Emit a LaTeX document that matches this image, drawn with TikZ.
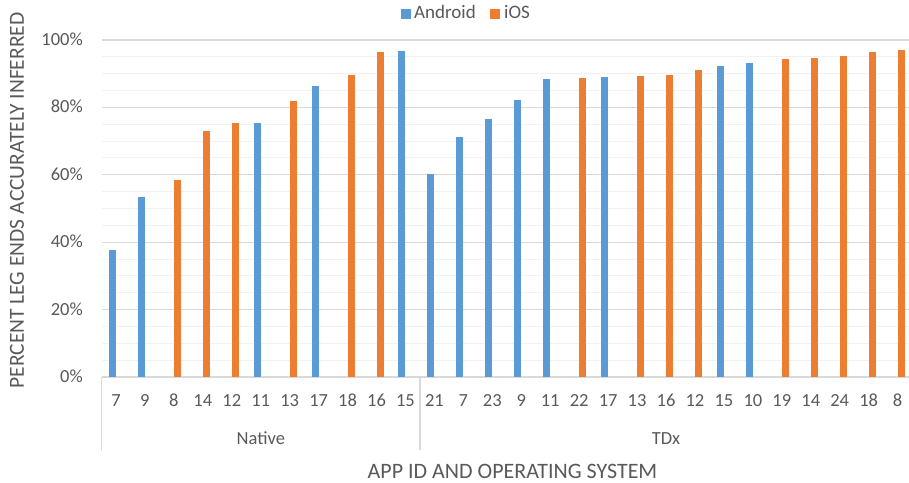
\documentclass[tikz,border=0pt]{standalone}
\usepackage{fontspec}
\setmainfont{Carlito}
\definecolor{andr}{HTML}{5B9BD5}
\definecolor{ios}{HTML}{ED7D31}
\definecolor{txt}{HTML}{595959}
\definecolor{majorc}{HTML}{D9D9D9}
\definecolor{minorc}{HTML}{F2F2F2}
\begin{document}
\begin{tikzpicture}[x=1pt,y=1pt,
  majorgrid/.style={draw=majorc,line width=1.2pt},
  minorgrid/.style={draw=minorc,line width=1pt},
  ytick/.style={text=txt,anchor=base east,inner sep=0pt,font=\fontsize{18.5}{20}\selectfont},
  cattick/.style={text=txt,anchor=base,inner sep=0pt,font=\fontsize{18.5}{20}\selectfont},
  grouplab/.style={text=txt,anchor=base,inner sep=0pt,font=\fontsize{18.5}{20}\selectfont},
  axtitle/.style={text=txt,anchor=base,inner sep=0pt,font=\fontsize{22}{24}\selectfont},
  ytitle/.style={text=txt,anchor=base,inner sep=0pt,font=\fontsize{21.5}{24}\selectfont},
  leglab/.style={text=txt,anchor=base west,inner sep=0pt,font=\fontsize{19}{20}\selectfont},
  legkey/.style={minimum width=10pt,minimum height=10pt,inner sep=0pt,anchor=south west}
]
\useasboundingbox (0,0) rectangle (909,482);
% minor gridlines
\foreach \p in {5,10,15,25,30,35,45,50,55,65,70,75,85,90,95}
  \draw[minorgrid] (101.5,{105+\p*3.37}) -- (909,{105+\p*3.37});
% major gridlines and y tick labels
\foreach \p in {0,20,40,60,80,100}{
  \draw[majorgrid] (101.5,{105+\p*3.37}) -- (909,{105+\p*3.37});
  \node[ytick] (ytick-\p) at (83,{105+\p*3.37-5.6}) {\p\%};
}
% category axis lines
\draw[majorgrid] (101.5,105) -- (101.5,32);
\draw[majorgrid] (419.95,105) -- (419.95,32);
% bars and category labels
\foreach \lab/\col/\off/\v [count=\k from 0] in {
  7/andr/-7/37.7, 9/andr/-7/53.4, 8/ios/0/58.5, 14/ios/0/73.1, 12/ios/0/75.3,
  11/andr/-7/75.3, 13/ios/0/81.9, 17/andr/-7/86.3, 18/ios/0/89.7, 16/ios/0/96.4,
  15/andr/-7/96.8,
  21/andr/-7/60.2, 7/andr/-7/71.2, 23/andr/-7/76.6, 9/andr/-7/82.1, 11/andr/-7/88.4,
  22/ios/0/88.6, 17/andr/-7/89.0, 13/ios/0/89.3, 16/ios/0/89.6, 12/ios/0/91.0,
  15/andr/-7/92.2, 10/andr/-7/93.1, 19/ios/0/94.3, 14/ios/0/94.7, 24/ios/0/95.3,
  18/ios/0/96.3, 8/ios/0/97.0}{
  \pgfmathsetmacro\c{101.5+28.95*(\k+0.5)}
  \fill[\col] ({\c+\off},105) rectangle ({\c+\off+7},{105+\v*3.37});
  \node[cattick] (cat-\k) at (\c,75.3) {\lab};
}
% group labels
\node[grouplab] (g-native) at (260.8,38) {Native};
\node[grouplab] (g-tdx) at (666,38) {TDx};
% axis titles
\node[axtitle] (xtitle) at (512.5,3.7) {APP ID AND OPERATING SYSTEM};
\node[ytitle,rotate=90] (ytitle) at (24,281.5) {PERCENT LEG ENDS ACCURATELY INFERRED};
% legend
\node[legkey,fill=andr] (key-andr) at (400.7,462.7) {};
\node[leglab] (lab-andr) at (414,463.7) {Android};
\node[legkey,fill=ios] (key-ios) at (489.3,462.7) {};
\node[leglab] (lab-ios) at (504,463.7) {iOS};
\end{tikzpicture}
\end{document}
